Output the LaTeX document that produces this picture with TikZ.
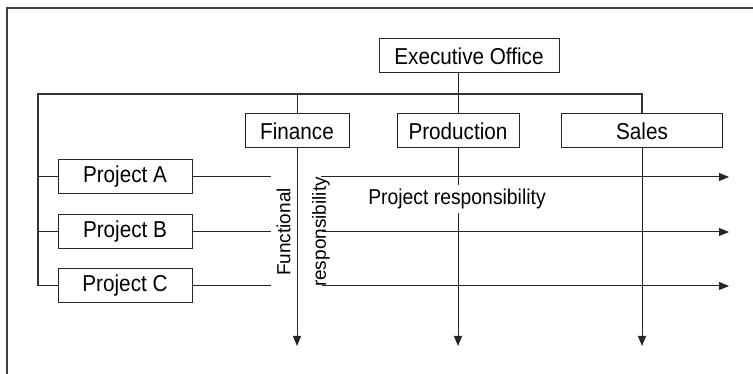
\documentclass[tikz,border=0pt]{standalone}
\usepackage{fontspec}
\setmainfont{Liberation Sans}
\newfontfamily\condfont[FakeStretch=0.9]{Liberation Sans}
\usetikzlibrary{arrows.meta}
\begin{document}
\begin{tikzpicture}[x=1pt,y=-1pt,
  box/.style={draw=black!85, line width=1pt, inner sep=0pt, minimum height=34pt,
    font=\condfont\fontsize{23}{26}\selectfont},
  link/.style={draw=black!85, line width=1pt},
  bus/.style={draw=black!80, line width=1.4pt},
  arr/.style={link, -{Triangle[length=10pt,width=8pt]}},
  lbl/.style={inner sep=0pt, font=\fontsize{19}{22}\selectfont}
]
\useasboundingbox (0,0) rectangle (753,374);
\draw[line width=1.6pt, black!75] (7,374) -- (7,8) -- (753,8);

% nodes
\node[box, minimum width=180pt] (exec) at (469,56) {Executive Office};
\node[box, minimum width=104pt] (fin) at (297,131) {Finance};
\node[box, minimum width=122pt] (prod) at (458,131) {Production};
\node[box, minimum width=161pt] (sales) at (642,131) {Sales};
\node[box, minimum width=134pt] (pa) at (125,177) {Project A};
\node[box, minimum width=134pt] (pb) at (125,232) {Project B};
\node[box, minimum width=134pt] (pc) at (125,286) {Project C};

% bus coordinates
\coordinate (busL) at (38,94);
\coordinate (busR) at (642,94);
\coordinate (leftbot) at (38,286);

\draw[bus] (leftbot) -- (busL) -- (busR) -- (sales.north);
\draw[link] (exec.south -| prod.north) -- (prod.north);
\draw[link] (fin.north) -- (fin.north |- busL);
\draw[link] (pa.west -| busL) -- (pa.west);
\draw[link] (pb.west -| busL) -- (pb.west);
\draw[link] (leftbot) -- (pc.west);

% left stubs
\coordinate (aEnd) at (271,177);
\coordinate (bEnd) at (271,232);
\coordinate (cEnd) at (271,286);
\draw[link] (pa.east) -- (aEnd);
\draw[link] (pb.east) -- (bEnd);
\draw[link] (pc.east) -- (cEnd);

% vertical arrows
\coordinate (finTip) at (297,346);
\coordinate (prodTip) at (458,346);
\coordinate (salesTip) at (642,346);
\draw[arr] (fin.south) -- (finTip);
\draw[arr] (prod.south) -- (prodTip);
\draw[arr] (sales.south) -- (salesTip);

% horizontal arrows
\coordinate (aS) at (321,177);
\coordinate (bS) at (322,232);
\coordinate (cS) at (322,286);
\coordinate (aT) at (729,177);
\coordinate (bT) at (729,232);
\coordinate (cT) at (729,286);
\draw[arr] (aS) -- (aT);
\draw[arr] (bS) -- (bT);
\draw[arr] (cS) -- (cT);

% labels
\node[lbl, font=\condfont\fontsize{21.5}{24}\selectfont, fill=white, inner xsep=2pt, inner ysep=4pt] (projresp) at (457,199) {Project responsibility};
\node[lbl, rotate=90] (func) at (283.5,232) {Functional};
\node[lbl, rotate=90] (fresp) at (321,232) {responsibility};
\end{tikzpicture}
\end{document}
